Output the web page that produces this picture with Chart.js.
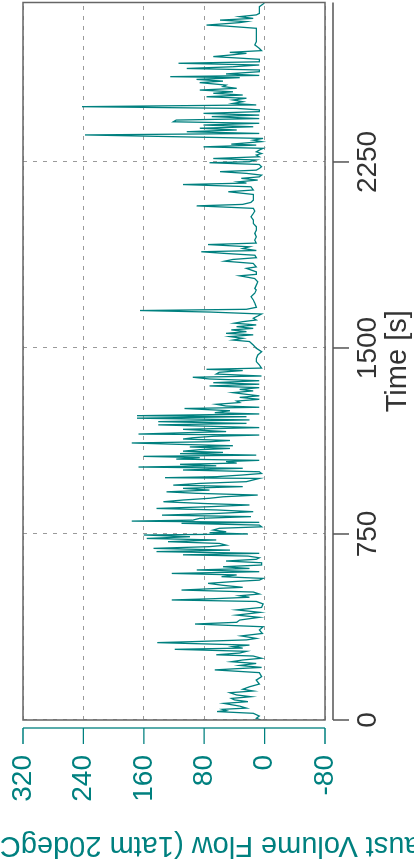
<!DOCTYPE html>
<html lang="en">
<head>
    <meta charset="UTF-8">
    <title>Exhaust Volume Flow</title>
    <script src="https://cdn.jsdelivr.net/npm/chart.js"></script>
    <style>
        body {
            margin: 0;
            background: #fff;
            overflow: hidden;
            width: 414px;
            height: 865px;
        }

        /* chart is drawn landscape and turned a quarter turn to the left */
        #wrap {
            position: absolute;
            left: 0;
            top: 0;
            width: 865px;
            height: 414px;
            transform-origin: 0 0;
            transform: translateY(865px) rotate(-90deg);
        }
    </style>
</head>
<body>
    <div id="wrap">
        <canvas id="chart" width="865" height="414"></canvas>
    </div>

    <script>
        // Time ticks [s] and flow ticks
        const timeTicks = [0, 750, 1500, 2250];
        const flowTicks = [-80, 0, 80, 160, 240, 320];
        const timeMax = 2893;

        // Time [s] of each sample
        const time = [
            0, 7, 16, 27, 34, 38, 43, 48, 56, 67, 74, 81, 87, 94, 101, 110, 117, 124, 134, 145,
            161, 175, 191, 202, 207, 212, 220, 228, 235, 242, 249, 258, 263, 270, 277, 285, 290, 296, 302, 312,
            316, 323, 329, 339, 349, 363, 376, 387, 394, 403, 414, 423, 434, 444, 454, 468, 478, 484, 489, 495,
            501, 508, 516, 524, 528, 535, 543, 551, 558, 564,
            571, 578, 585, 591, 598, 605, 611, 618, 625, 634, 641, 648, 654, 661, 666, 672, 679, 685, 692, 699,
            705, 712, 719, 726, 732, 739, 746, 750, 755, 759, 766, 773, 779, 786, 793, 797, 802, 806, 813, 820,
            826, 833, 840, 847, 853, 860, 867, 873, 880, 887, 894, 900, 907, 914, 920, 927, 934, 941, 947, 954,
            961, 968, 974, 977, 981, 988, 994, 1001, 1008, 1015, 1020, 1025, 1031, 1036, 1042, 1047, 1052, 1058, 1063, 1068,
            1074, 1079, 1084, 1090, 1095, 1101, 1106, 1111, 1117, 1122, 1127, 1133, 1138, 1144, 1149,
            1153, 1163, 1172, 1179, 1190, 1196, 1203, 1210, 1217, 1223, 1227, 1234, 1239, 1247, 1256, 1261, 1266, 1273, 1280, 1286,
            1293, 1301, 1307, 1313, 1320, 1327, 1333, 1340, 1347, 1354, 1360, 1368, 1375, 1382, 1387, 1395, 1402, 1409, 1414, 1419,
            1432, 1445, 1458, 1472, 1485, 1499, 1512, 1526, 1532, 1539, 1546, 1553, 1559, 1566, 1573, 1579, 1586, 1593, 1600, 1606,
            1613, 1620, 1629, 1637, 1645, 1651, 1656, 1664, 1680, 1694, 1707, 1721, 1734,
            1740, 1754, 1767, 1780, 1791, 1797, 1807, 1821, 1827, 1841, 1850, 1857, 1864, 1874, 1881, 1888, 1893, 1901, 1908, 1917,
            1923, 1935, 1948, 1962, 1975, 1989, 2002, 2016, 2029, 2042, 2052, 2063, 2069, 2073, 2079, 2087, 2096, 2110, 2119, 2130,
            2137, 2150, 2159, 2165, 2170, 2177, 2184, 2190, 2197, 2204, 2211, 2217, 2224, 2231, 2240, 2247, 2251, 2258, 2264, 2271,
            2278, 2284, 2291, 2298, 2305, 2311, 2318,
            2322, 2332, 2338, 2345, 2359, 2365, 2372, 2379, 2386, 2392, 2399, 2406, 2412, 2419, 2425, 2433, 2439, 2446, 2453, 2460,
            2466, 2473, 2480, 2486, 2493, 2500, 2507, 2513, 2520, 2527, 2533, 2540, 2547, 2554, 2560, 2570, 2576, 2583, 2590, 2594,
            2599, 2605, 2614, 2621, 2627, 2634, 2641, 2648, 2654, 2664, 2675, 2681, 2688, 2692, 2699, 2708, 2722, 2735, 2748, 2762,
            2775, 2789, 2798, 2802, 2806, 2812, 2816, 2822, 2829, 2836, 2843, 2849, 2863, 2876, 2887, 2893
        ];

        // Exhaust volume flow
        const flow = [
            5, 11, 7, 15, 63, 51, 56, 24, 33, 54, 22, 40, 44, 18, 37, 46, 15, 29, 20, 7,
            11, 4, 7, 66, 37, 4, 33, 11, 44, 29, 4, 15, 64, 33, 24, 119, 29, 42, 20, 142,
            95, 24, 11, 31, 3, 7, 2, 92, 37, 33, 7, 37, 6, 37, 4, 2, 11, 123, 68, 20,
            33, 7, 15, 110, 81, 29, 55, 75, 42, 7,
            2, 57, 37, 123, 7, 90, 20, 55, 4, 4, 51, 11, 7, 22, 108, 7, 143, 46, 147, 73,
            51, 60, 128, 64, 156, 99, 160, 22, 73, 51, 68, 60, 4, 7, 110, 7, 176, 95, 86, 18,
            136, 62, 15, 64, 143, 73, 20, 81, 134, 108, 73, 55, 9, 90, 130, 73, 108, 29, 121, 86,
            24, 15, 7, 132, 64, 29, 4, 7, 108, 29, 167, 64, 112, 37, 51, 7, 117, 86, 160, 11,
            112, 55, 108, 86, 46, 99, 42, 108, 176, 73, 46, 108, 95, 68, 7,
            167, 51, 108, 7, 141, 24, 141, 20, 169, 24, 169, 7, 66, 46, 106, 7, 51, 64, 33, 37,
            7, 33, 7, 24, 42, 15, 33, 7, 73, 7, 68, 7, 73, 95, 4, 64, 60, 29, 77, 4,
            7, 11, 11, 9, 4, 11, 15, 20, 42, 29, 46, 15, 51, 24, 44, 15, 37, 11, 40, 29,
            11, 15, 9, 4, 73, 165, 24, 11, 13, 15, 18, 13, 11,
            13, 11, 9, 13, 33, 11, 11, 24, 11, 15, 53, 42, 11, 13, 51, 84, 11, 29, 20, 75,
            11, 13, 11, 13, 11, 11, 15, 15, 18, 15, 13, 15, 59, 90, 29, 18, 15, 15, 15, 48,
            15, 18, 108, 24, 35, 9, 31, 7, 4, 24, 59, 11, 7, 4, 7, 73, 20, 11, 68, 7,
            11, 4, 11, 7, 2, 81, 11,
            44, 4, 15, 2, 238, 7, 103, 37, 86, 15, 81, 7, 121, 117, 7, 70, 7, 81, 7, 7,
            37, 242, 11, 42, 29, 42, 24, 77, 29, 68, 42, 86, 37, 55, 51, 86, 55, 90, 33, 125,
            7, 51, 7, 7, 103, 42, 7, 114, 7, 7, 68, 46, 24, 46, 4, 7, 13, 11, 11, 11,
            11, 11, 51, 77, 59, 33, 24, 59, 15, 33, 11, 7, 7, 7, 2, 0
        ];

        const teal = '#00807f';
        const ink = '#333';
        const fontFamily = "'Liberation Sans', Arial, sans-serif";

        // Axis lines set apart from the plot box, plus the box itself
        const axisLines = {
            id: 'axisLines',
            afterDraw(chart) {
                const { ctx, chartArea: a, scales: { x, y } } = chart;
                ctx.save();

                ctx.strokeStyle = '#666';
                ctx.lineWidth = 1.5;
                ctx.strokeRect(a.left, a.top, a.right - a.left, a.bottom - a.top);

                // flow axis
                const ax = a.left - 8;
                ctx.strokeStyle = teal;
                ctx.lineWidth = 1.3;
                ctx.beginPath();
                ctx.moveTo(ax, y.getPixelForValue(flowTicks[0]));
                ctx.lineTo(ax, y.getPixelForValue(flowTicks[flowTicks.length - 1]));
                flowTicks.forEach(v => {
                    const p = y.getPixelForValue(v);
                    ctx.moveTo(ax, p);
                    ctx.lineTo(ax - 16, p);
                });
                ctx.stroke();

                // time axis
                const ay = a.bottom + 8;
                ctx.strokeStyle = '#555';
                ctx.lineWidth = 1.5;
                ctx.beginPath();
                ctx.moveTo(x.getPixelForValue(0), ay);
                ctx.lineTo(x.getPixelForValue(timeMax), ay);
                timeTicks.forEach(v => {
                    const p = x.getPixelForValue(v);
                    ctx.moveTo(p, ay);
                    ctx.lineTo(p, ay + 16);
                });
                ctx.stroke();

                ctx.restore();
            }
        };

        const ctx = document.getElementById('chart').getContext('2d');
        new Chart(ctx, {
            type: 'line',
            data: {
                datasets: [{
                    data: time.map((t, i) => ({ x: t, y: flow[i] })),
                    borderColor: teal,
                    borderWidth: 1.3,
                    pointRadius: 0,
                    tension: 0,
                    fill: false
                }]
            },
            options: {
                responsive: false,
                animation: false,
                layout: { padding: { top: 23, right: 2.5, left: 0, bottom: 0 } },
                plugins: {
                    legend: { display: false },
                    tooltip: { enabled: false }
                },
                scales: {
                    x: {
                        type: 'linear',
                        min: 0,
                        max: timeMax,
                        afterBuildTicks: s => { s.ticks = timeTicks.map(v => ({ value: v })); },
                        afterFit: s => { s.height = 89; },
                        // tick marks kept invisible, their length only pushes the labels out
                        grid: { color: '#9a9a9a', lineWidth: 1, drawTicks: true, tickLength: 26, tickColor: 'rgba(0,0,0,0)' },
                        border: { display: false, dash: [4, 6] },
                        ticks: {
                            color: ink,
                            padding: 0,
                            maxRotation: 0,
                            font: { family: fontFamily, size: 28 },
                            callback: v => String(v)
                        },
                        title: {
                            display: true,
                            text: 'Time [s]',
                            color: ink,
                            padding: { top: 0, bottom: 0 },
                            font: { family: fontFamily, size: 29, lineHeight: 1.1 }
                        }
                    },
                    y: {
                        min: -80,
                        max: 320,
                        afterBuildTicks: s => { s.ticks = flowTicks.map(v => ({ value: v })); },
                        afterFit: s => { s.width = 145; },
                        grid: { color: '#9a9a9a', lineWidth: 1, drawTicks: true, tickLength: 35, tickColor: 'rgba(0,0,0,0)' },
                        border: { display: false, dash: [4, 6] },
                        ticks: {
                            color: teal,
                            padding: 0,
                            font: { family: fontFamily, size: 28 },
                            callback: v => String(v)
                        },
                        title: {
                            display: true,
                            text: 'Exhaust Volume Flow (1atm 20degC) [m³/min]',
                            color: teal,
                            padding: { top: 4, bottom: 0 },
                            font: { family: fontFamily, size: 29, lineHeight: 1.1 }
                        }
                    }
                }
            },
            plugins: [axisLines]
        });
    </script>
</body>
</html>
